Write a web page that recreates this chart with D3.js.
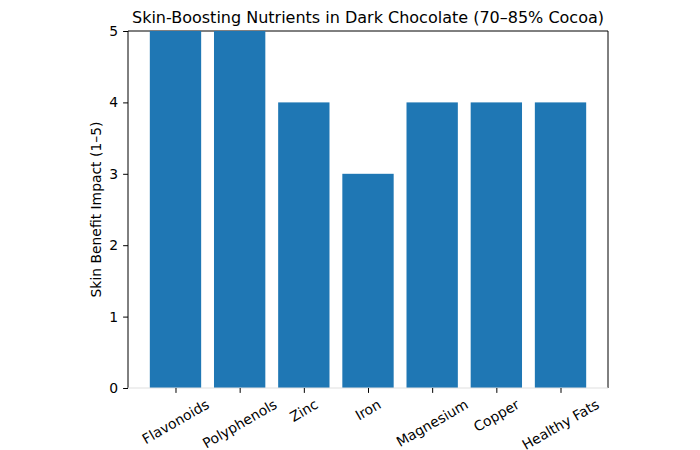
<!DOCTYPE html>
<html><head><meta charset="utf-8">
<script src="https://cdn.jsdelivr.net/npm/d3@7"></script>
<style>body{margin:0;background:#fff;} text{font-family:"DejaVu Sans",sans-serif;}</style>
</head><body>
<svg id="chart" width="700" height="450"></svg>
<script>
const categories = ["Flavonoids","Polyphenols","Zinc","Iron","Magnesium","Copper","Healthy Fats"];
const values = [5,5,4,3,4,4,4];
const yTicks = [0,1,2,3,4,5];
const title = "Skin-Boosting Nutrients in Dark Chocolate (70–85% Cocoa)";
const yLabel = "Skin Benefit Impact (1–5)";

const svg = d3.select("#chart");
const L=128, R=608, T=31, B=388;
const x = d3.scaleLinear().domain([-0.74, categories.length-1+0.74]).range([L,R]);
const y = d3.scaleLinear().domain([0,5]).range([B,T]);
const bw = x(0.8)-x(0);

// top spine (under bars)
svg.append("line").attr("x1",L).attr("x2",R).attr("y1",T).attr("y2",T).attr("stroke","#000").attr("stroke-width",1);

svg.selectAll("rect.bar").data(values).enter().append("rect")
  .attr("class","bar")
  .attr("x",(d,i)=>x(i)-bw/2).attr("width",bw)
  .attr("y",d=>y(d)).attr("height",d=>y(0)-y(d))
  .attr("fill","#1f77b4");

// spines
svg.append("line").attr("x1",L).attr("x2",L).attr("y1",T).attr("y2",B).attr("stroke","#000").attr("stroke-width",1);
svg.append("line").attr("x1",R).attr("x2",R).attr("y1",T).attr("y2",B).attr("stroke","#000").attr("stroke-width",1);
svg.append("line").attr("x1",L).attr("x2",R).attr("y1",B).attr("y2",B).attr("stroke","#e0e0e0").attr("stroke-width",1.2);

// y axis
const yAxis = d3.axisLeft(y).tickValues(yTicks).tickSize(4.9).tickPadding(4.9).tickFormat(d3.format("d"));
const gy = svg.append("g").attr("transform",`translate(${L},0)`).call(yAxis);
gy.select(".domain").remove();
gy.selectAll("text").attr("font-size","13.9px").attr("fill","#000").style("font-family","DejaVu Sans");
gy.selectAll("line").attr("stroke","#000");

// x axis ticks
const xAxis = d3.axisBottom(x).tickValues(d3.range(categories.length)).tickSize(4.9).tickFormat("");
const gx = svg.append("g").attr("transform",`translate(0,${B})`).call(xAxis);
gx.select(".domain").remove();
gx.selectAll("line").attr("stroke","#000");

// rotated labels
categories.forEach((c,i)=>{
  const t = svg.append("text").text(c).attr("font-size","13.9px").attr("fill","#000")
    .attr("text-anchor","middle").attr("dominant-baseline","central");
  const w = t.node().getComputedTextLength();
  const h = 13.9*1.17;
  const bh = w*0.5 + h*0.866;
  const cx = x(i), cy = B + 4.9 + 3 + bh/2;
  t.attr("x",cx).attr("y",cy).attr("transform",`rotate(-30,${cx},${cy})`);
});

svg.append("text").text(title).attr("x",(L+R)/2).attr("y",T-8)
  .attr("text-anchor","middle").attr("font-size","16px").attr("fill","#000");
svg.append("text").text(yLabel).attr("transform",`translate(${101},${(T+B)/2}) rotate(-90)`)
  .attr("text-anchor","middle").attr("font-size","13.9px").attr("fill","#000");
</script>
</body></html>
